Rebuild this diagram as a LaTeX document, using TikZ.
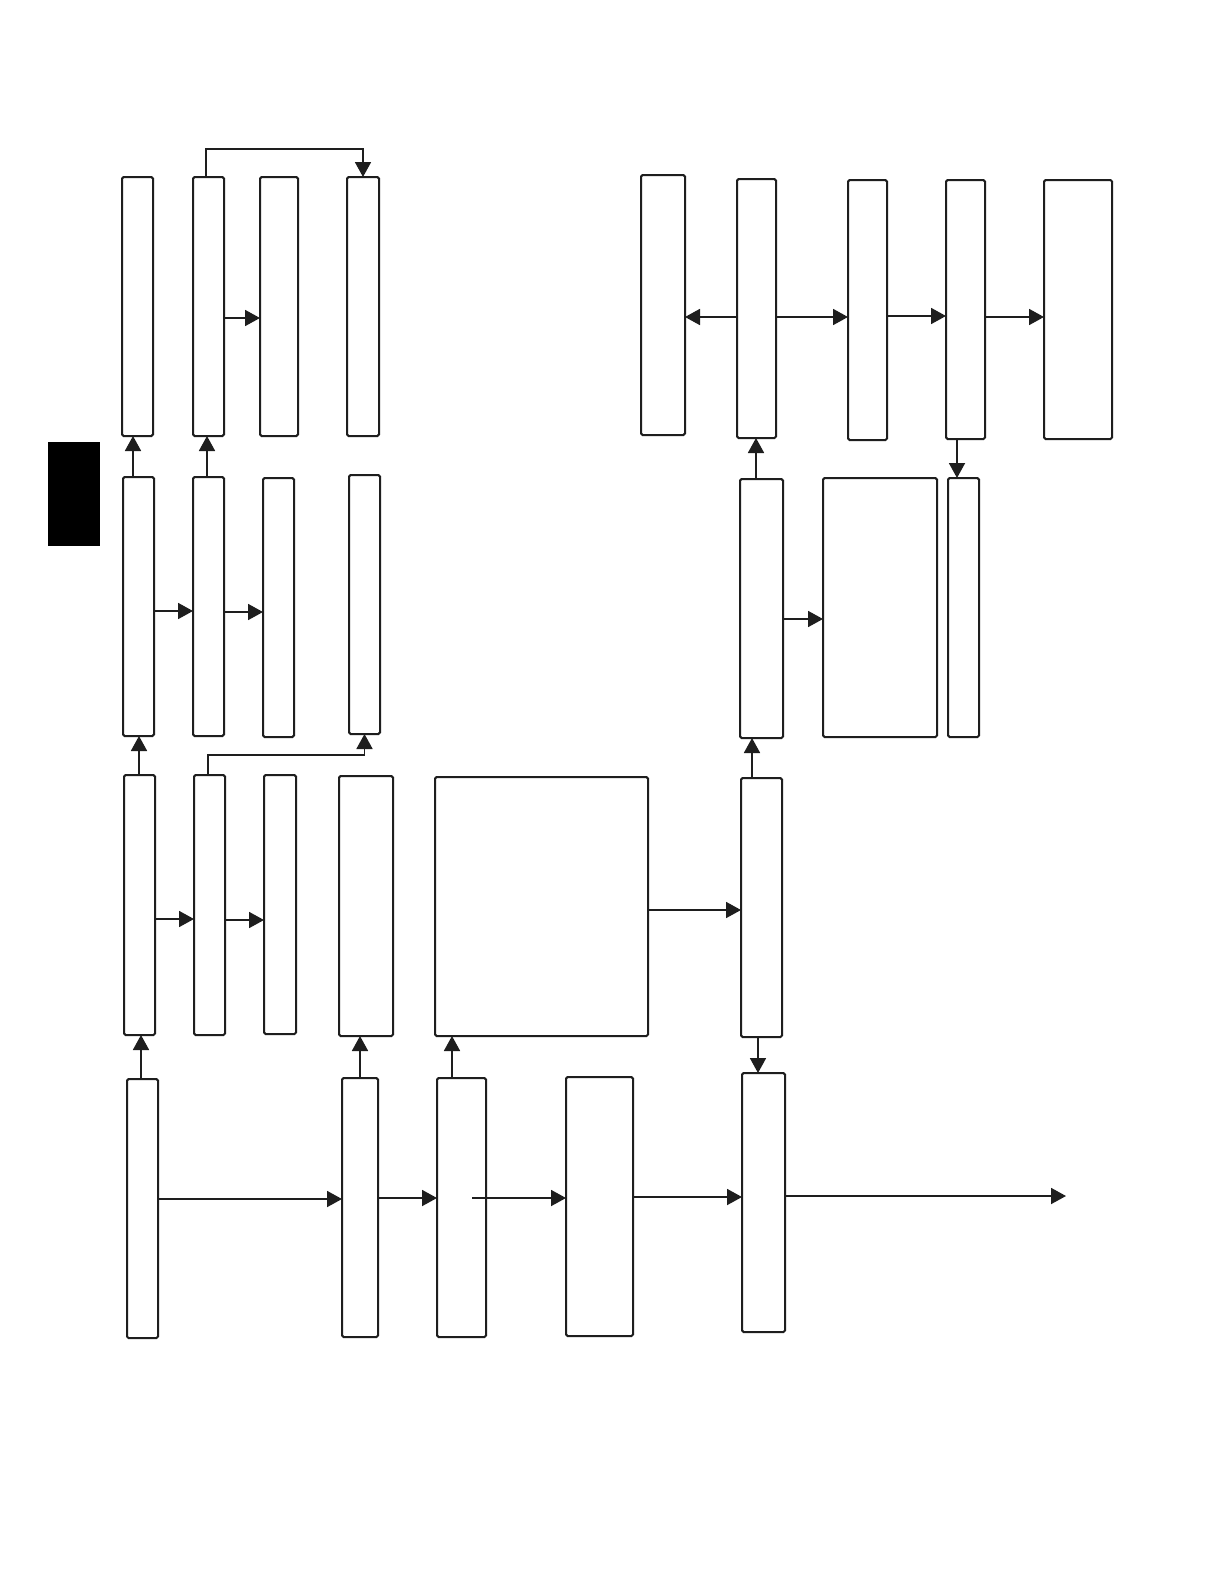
\documentclass[tikz,border=0pt]{standalone}
\usetikzlibrary{arrows.meta}
\definecolor{ink}{RGB}{30,30,30}
\tikzset{
  box/.style={draw=ink,line width=1pt,rounded corners=0.8pt,inner sep=0pt,outer sep=0pt,fill=white},
  solidbox/.style={fill=black,draw=black,inner sep=0pt,outer sep=0pt},
  arr/.style={draw=ink,line width=0.9pt,-{Triangle[length=7.5pt,width=8pt]}},
}
\newcommand\bx[6][box]{\node[#1,minimum width={(#5-#3)*0.5pt},minimum height={(#6-#4)*0.5pt}] (#2) at ({(#3+#5)/2},{(#4+#6)/2}) {};}
\begin{document}
\begin{tikzpicture}[x=0.5pt,y=-0.5pt]
\fill[white] (0,0) rectangle (1224,1584);
\useasboundingbox (0,0) rectangle (1224,1584);
% black block
\bx[solidbox]{blk}{48}{442}{99}{545}
% top-left row
\bx{A1}{122}{177}{153}{436}
\bx{A2}{193}{177}{224}{436}
\bx{A3}{260}{177}{298}{436}
\bx{A4}{347}{177}{379}{436}
% second-left row
\bx{C1}{123}{477}{154}{736}
\bx{C2}{193}{477}{224}{736}
\bx{C3}{263}{478}{294}{737}
\bx{C4}{349}{475}{380}{734}
% third-left row
\bx{D1}{124}{775}{155}{1035}
\bx{D2}{194}{775}{225}{1035}
\bx{D3}{264}{775}{296}{1034}
\bx{D4}{339}{776}{393}{1036}
\bx{D5}{435}{777}{648}{1036}
% bottom row
\bx{E1}{127}{1079}{158}{1338}
\bx{E2}{342}{1078}{378}{1337}
\bx{E3}{437}{1078}{486}{1337}
\bx{E4}{566}{1077}{633}{1336}
\bx{E5}{742}{1073}{785}{1332}
% top-right row
\bx{B1}{641}{175}{685}{435}
\bx{B2}{737}{179}{776}{438}
\bx{B3}{848}{180}{887}{440}
\bx{B4}{946}{180}{985}{439}
\bx{B5}{1044}{180}{1112}{439}
% second-right row
\bx{R2}{740}{479}{783}{738}
\bx{R2b}{823}{478}{937}{737}
\bx{R2c}{948}{478}{979}{737}
% third-right
\bx{R3}{741}{778}{782}{1037}
% free ends
\coordinate (E3s) at (472,1198);
\coordinate (outend) at (1066,1196);
% connectors top-left
\draw[arr] (A2.east |- 0,318) -- (A3.west |- 0,318);
\draw[arr] (A2.north -| 206,0) -- (206,149) -| (A4.north);
\draw[arr] (C1.north -| 133,0) -- (A1.south -| 133,0);
\draw[arr] (C2.north -| 207,0) -- (A2.south -| 207,0);
\draw[arr] (C1.east |- 0,611) -- (C2.west |- 0,611);
\draw[arr] (C2.east |- 0,612) -- (C3.west |- 0,612);
\draw[arr] (D2.north -| 208,0) -- (208,755) -| (C4.south);
\draw[arr] (D1.north -| 139,0) -- (C1.south -| 139,0);
\draw[arr] (D1.east |- 0,919) -- (D2.west |- 0,919);
\draw[arr] (D2.east |- 0,920) -- (D3.west |- 0,920);
\draw[arr] (E1.north -| 141,0) -- (D1.south -| 141,0);
\draw[arr] (E2.north) -- (D4.south -| E2.north);
\draw[arr] (E3.north -| 452,0) -- (D5.south -| 452,0);
\draw[arr] (D5.east |- 0,910) -- (R3.west |- 0,910);
% bottom row
\draw[arr] (E1.east |- 0,1199) -- (E2.west |- 0,1199);
\draw[arr] (E2.east |- 0,1198) -- (E3.west |- 0,1198);
\draw[arr] (E3s) -- (E4.west |- E3s);
\draw[arr] (E4.east |- 0,1197) -- (E5.west |- 0,1197);
\draw[arr] (E5.east |- outend) -- (outend);
% right side
\draw[arr] (R3.south -| 758,0) -- (E5.north -| 758,0);
\draw[arr] (R3.north -| 752,0) -- (R2.south -| 752,0);
\draw[arr] (R2.north -| 756,0) -- (B2.south -| 756,0);
\draw[arr] (R2.east |- 0,619) -- (R2b.west |- 0,619);
\draw[arr] (B2.west |- 0,317) -- (B1.east |- 0,317);
\draw[arr] (B2.east |- 0,317) -- (B3.west |- 0,317);
\draw[arr] (B3.east |- 0,316) -- (B4.west |- 0,316);
\draw[arr] (B4.east |- 0,317) -- (B5.west |- 0,317);
\draw[arr] (B4.south -| 957,0) -- (R2c.north -| 957,0);
\end{tikzpicture}
\end{document}
